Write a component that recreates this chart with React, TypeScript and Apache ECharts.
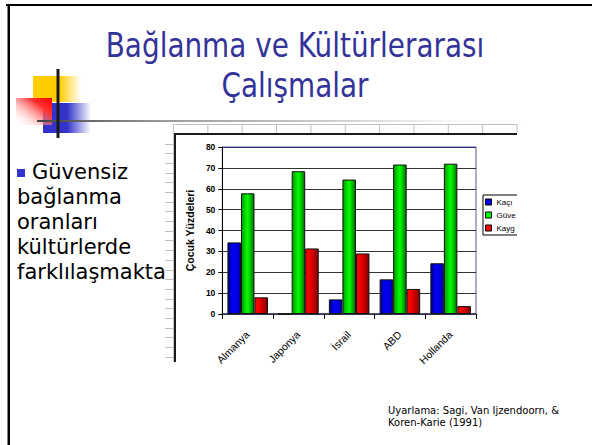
import React, { useEffect, useRef } from "react";
import * as echarts from "echarts";

const categories = ["Almanya", "Japonya", "İsrail", "ABD", "Hollanda"];
const seriesNames = ["Kaçınan", "Güvenli", "Kaygılı"];
const avoidant = [34.3, 0, 7, 16.6, 24.3];
const secure = [57.8, 68.4, 64.4, 71.6, 72];
const anxious = [8, 31.4, 29, 12, 3.8];
const yAxisName = "Çocuk Yüzdeleri";
const titleLines = ["Bağlanma ve Kültürlerarası", "Çalışmalar"];
const bulletLines = ["Güvensiz", "bağlanma", "oranları", "kültürlerde", "farklılaşmakta"];
const sourceLines = ["Uyarlama: Sagi, Van Ijzendoorn, &", "Koren-Karie (1991)"];

const ARIAL = "Liberation Sans, Arial, sans-serif";
const SANS = "DejaVu Sans, Verdana, sans-serif";

function grad(stops: [number, string][]) {
  return {
    type: "linear",
    x: 0,
    y: 0,
    x2: 1,
    y2: 0,
    colorStops: stops.map(([offset, color]) => ({ offset, color })),
  };
}

const barFills = [
  grad([[0, "#000088"], [0.45, "#0000ff"], [1, "#0000b0"]]),
  grad([[0, "#009900"], [0.5, "#00ff00"], [1, "#007000"]]),
  grad([[0, "#ff0000"], [0.35, "#f00000"], [1, "#800000"]]),
];
const legendColors = ["#0000ff", "#00ff00", "#ff0000"];

function backgroundOption() {
  const g: any[] = [];
  // slide frame
  g.push({ type: "rect", shape: { x: 6, y: 4, width: 590, height: 2 }, style: { fill: "#000" } });
  g.push({ type: "rect", shape: { x: 7.5, y: 4, width: 2.5, height: 445 }, style: { fill: "#000" } });
  // logo
  g.push({
    type: "rect",
    shape: { x: 33, y: 76, width: 48, height: 26 },
    style: {
      fill: {
        type: "linear", x: 0, y: 0, x2: 1, y2: 0,
        colorStops: [
          { offset: 0, color: "#ffcc00" },
          { offset: 0.55, color: "#ffcc00" },
          { offset: 1, color: "rgba(255,204,0,0)" },
        ],
      },
    },
  });
  g.push({
    type: "rect",
    shape: { x: 43, y: 103, width: 48, height: 30 },
    style: {
      fill: {
        type: "linear", x: 0, y: 0, x2: 1, y2: 0,
        colorStops: [
          { offset: 0, color: "#3333cc" },
          { offset: 0.5, color: "#3333cc" },
          { offset: 1, color: "rgba(51,51,204,0)" },
        ],
      },
    },
  });
  g.push({
    type: "rect",
    shape: { x: 16, y: 98, width: 36, height: 27 },
    style: {
      fill: {
        type: "linear", x: 1, y: 0, x2: 0, y2: 1,
        colorStops: [
          { offset: 0, color: "#ff0000" },
          { offset: 0.3, color: "#ff3030" },
          { offset: 1, color: "rgba(255,255,255,0)" },
        ],
      },
    },
  });
  g.push({
    type: "rect",
    shape: { x: 37, y: 120, width: 490, height: 2 },
    style: {
      fill: {
        type: "linear", x: 0, y: 0, x2: 1, y2: 0,
        colorStops: [
          { offset: 0, color: "#444444" },
          { offset: 0.25, color: "#999999" },
          { offset: 0.7, color: "#dddddd" },
          { offset: 1, color: "rgba(255,255,255,0)" },
        ],
      },
    },
  });
  g.push({ type: "rect", shape: { x: 56.5, y: 69, width: 3, height: 69 }, style: { fill: "#1a1a1a" } });

  // title
  titleLines.forEach((t, i) => {
    g.push({
      type: "text",
      x: 295,
      y: i === 0 ? 45 : 85,
      scaleX: 0.82,
      style: {
        text: t,
        fill: "#333399",
        fontSize: 34,
        fontFamily: SANS,
        align: "center",
        verticalAlign: "middle",
      },
    });
  });

  // bullet
  g.push({ type: "rect", shape: { x: 17, y: 169, width: 8, height: 8 }, style: { fill: "#3333cc" } });
  bulletLines.forEach((t, i) => {
    g.push({
      type: "text",
      x: i === 0 ? 32 : 17,
      y: 171.5 + i * 25,
      style: {
        text: t,
        fill: "#000",
        fontSize: 21,
        fontFamily: SANS,
        align: "left",
        verticalAlign: "middle",
      },
    });
  });

  // source
  sourceLines.forEach((t, i) => {
    g.push({
      type: "text",
      x: 388,
      y: 410 + i * 12.5,
      style: {
        text: t,
        fill: "#000",
        fontSize: 10,
        fontFamily: SANS,
        align: "left",
        verticalAlign: "middle",
      },
    });
  });

  // spreadsheet grid
  g.push({ type: "line", shape: { x1: 173, y1: 124.5, x2: 517, y2: 124.5 }, style: { stroke: "#c0c0c0", lineWidth: 1 } });
  for (let k = 0; k <= 10; k++) {
    const x = 173.5 + k * 34.35;
    g.push({ type: "line", shape: { x1: x, y1: 124, x2: x, y2: 133 }, style: { stroke: "#c0c0c0", lineWidth: 1 } });
  }
  g.push({ type: "line", shape: { x1: 173.5, y1: 124, x2: 173.5, y2: 362 }, style: { stroke: "#c8c8c8", lineWidth: 1 } });
  for (let y = 143.5; y < 362; y += 9.7) {
    g.push({ type: "line", shape: { x1: 165, y1: Math.round(y) + 0.5, x2: 173, y2: Math.round(y) + 0.5 }, style: { stroke: "#c0c0c0", lineWidth: 1 } });
  }
  g.push({ type: "rect", shape: { x: 174, y: 133, width: 343, height: 2 }, style: { fill: "#1a1a1a" } });
  g.push({ type: "rect", shape: { x: 174, y: 133, width: 2, height: 229 }, style: { fill: "#1a1a1a" } });

  return { animation: false, graphic: g };
}

function chartOption() {
  const data = [avoidant, secure, anxious];
  return {
    animation: false,
    textStyle: { fontFamily: ARIAL },
    grid: {
      left: 38,
      top: 12,
      width: 262,
      height: 167,
      show: true,
      backgroundColor: "#ffffff",
      borderColor: "#5a5aa0",
      borderWidth: 1,
    },
    legend: {
      orient: "vertical",
      left: 307,
      top: 60,
      icon: "rect",
      itemWidth: 6,
      itemHeight: 6,
      itemGap: 5,
      padding: [3, 2, 3, 2],
      borderColor: "#000",
      borderWidth: 1,
      backgroundColor: "#fff",
      textStyle: {
        fontSize: 8,
        fontFamily: ARIAL,
        color: "#000",
        width: 21,
        overflow: "truncate",
        ellipsis: "",
      },
      data: seriesNames.map((name, i) => ({
        name,
        itemStyle: { color: legendColors[i], borderColor: "#000", borderWidth: 1 },
      })),
    },
    xAxis: {
      type: "category",
      data: categories,
      axisLine: { lineStyle: { color: "#333355", width: 1.5 } },
      axisTick: { show: true, length: 5, inside: false, lineStyle: { color: "#000" } },
      axisLabel: {
        rotate: 45,
        margin: 19,
        fontSize: 10.5,
        color: "#000",
        fontFamily: ARIAL,
        interval: 0,
      },
      splitLine: { show: false },
    },
    yAxis: {
      type: "value",
      min: 0,
      max: 80,
      interval: 10,
      name: yAxisName,
      nameLocation: "middle",
      nameGap: 25,
      nameTextStyle: { fontSize: 10.5, fontWeight: "bold", color: "#000", fontFamily: ARIAL },
      axisLine: { show: true, lineStyle: { color: "#000", width: 1 } },
      axisTick: { show: true, length: 4, lineStyle: { color: "#000" } },
      axisLabel: { fontSize: 8.5, fontWeight: "bold", color: "#000", margin: 7, fontFamily: ARIAL },
      splitLine: {
        show: true,
        lineStyle: {
          color: ["#333", "#333", "#333", "#333", "#333", "#333", "#333", "#333", "#333380"],
          width: 1,
        },
      },
    },
    series: seriesNames.map((name, i) => ({
      name,
      type: "bar",
      data: data[i],
      barGap: "0%",
      barCategoryGap: "20%",
      itemStyle: { color: barFills[i], borderColor: "#111", borderWidth: 1 },
    })),
  };
}

export default function App() {
  const bgRef = useRef<HTMLDivElement>(null);
  const chartRef = useRef<HTMLDivElement>(null);

  useEffect(() => {
    const bg = echarts.init(bgRef.current as HTMLDivElement, undefined, { renderer: "svg" });
    bg.setOption(backgroundOption() as any);
    const chart = echarts.init(chartRef.current as HTMLDivElement, undefined, { renderer: "svg" });
    chart.setOption(chartOption() as any);
    return () => {
      chart.dispose();
      bg.dispose();
    };
  }, []);

  return (
    <>
      <div
        ref={bgRef}
        style={{ position: "absolute", left: 0, top: 0, width: 592, height: 445, background: "#fff" }}
      />
      <div
        ref={chartRef}
        style={{ position: "absolute", left: 176, top: 135, width: 341, height: 245 }}
      />
    </>
  );
}
